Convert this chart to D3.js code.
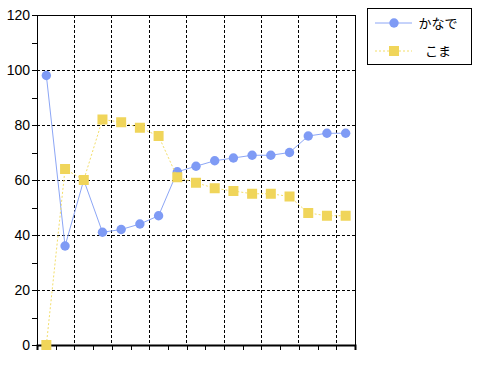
<!DOCTYPE html>
<html>
<head>
<meta charset="utf-8">
<script src="https://cdn.jsdelivr.net/npm/d3@7"></script>
<style>
  html, body { margin: 0; padding: 0; background: #fff; }
  svg { display: block; }
</style>
</head>
<body>
<div id="chart"></div>
<script>
const categories = d3.range(1, 18).map(String);
const seriesNames = ["かなで", "こま"];
const kanade = [98, 36, 60, 41, 42, 44, 47, 63, 65, 67, 68, 69, 69, 70, 76, 77, 77];
const koma = [0, 64, 60, 82, 81, 79, 76, 61, 59, 57, 56, 55, 55, 54, 48, 47, 47];
const yTicks = [0, 20, 40, 60, 80, 100, 120];
const yMinorTicks = d3.range(0, 121, 10);

(function () {
const W = 480, H = 374;
const pLeft = 37, pRight = 355, pTop = 15, pBottom = 345;
const blue = "#7f9bf5", blueLine = "#8ca6f6";
const yellow = "#f0d55a", yellowLine = "#f3de6a";

const svg = d3.select("#chart").append("svg")
  .attr("width", W).attr("height", H);

const x = d3.scaleBand().domain(categories).range([pLeft, pRight]).paddingInner(0).paddingOuter(0);
const xb = d3.scaleLinear().domain([0, categories.length]).range([pLeft, pRight]);
const y = d3.scaleLinear().domain([0, 120]).range([pBottom, pTop]);

const grid = svg.append("g").attr("stroke", "#000").attr("stroke-width", 1)
  .attr("stroke-dasharray", "3,2").attr("shape-rendering", "crispEdges");
yTicks.filter(v => v > 0 && v < 120).forEach(v => {
  grid.append("line").attr("x1", pLeft).attr("x2", pRight).attr("y1", y(v)).attr("y2", y(v));
});
d3.range(2, categories.length, 2).forEach(i => {
  grid.append("line").attr("x1", xb(i)).attr("x2", xb(i)).attr("y1", pTop).attr("y2", pBottom);
});

svg.append("line").attr("x1", pLeft).attr("x2", pRight).attr("y1", pTop).attr("y2", pTop)
  .attr("stroke", "#000").attr("shape-rendering", "crispEdges");
svg.append("line").attr("x1", pRight).attr("x2", pRight).attr("y1", pTop).attr("y2", pBottom)
  .attr("stroke", "#000").attr("shape-rendering", "crispEdges");

const yAxis = d3.axisLeft(y).tickValues(yMinorTicks).tickSize(5).tickPadding(2)
  .tickFormat(v => yTicks.includes(v) ? String(v) : "");
const ga = svg.append("g").attr("transform", `translate(${pLeft},0)`).call(yAxis);
ga.select(".domain").attr("stroke", "#000").attr("shape-rendering", "crispEdges");
ga.selectAll(".tick line").attr("stroke", "#000").attr("shape-rendering", "crispEdges");
ga.selectAll(".tick text").attr("font-family", "Liberation Sans, Arial, sans-serif")
  .attr("font-size", 14).attr("fill", "#000");

const xAxis = d3.axisBottom(xb).tickValues(d3.range(0, categories.length + 1)).tickSize(5).tickFormat("");
const gb = svg.append("g").attr("transform", `translate(0,${pBottom})`).call(xAxis);
gb.select(".domain").attr("stroke", "#000").attr("stroke-width", 2);
gb.selectAll(".tick line").attr("stroke", "#000").attr("shape-rendering", "crispEdges");

const cx = (d, i) => x(categories[i]) + x.bandwidth() / 2;

const lineK = d3.line().x((d, i) => cx(d, i)).y(d => y(d));
svg.append("path").datum(kanade).attr("d", lineK).attr("fill", "none")
  .attr("stroke", blueLine).attr("stroke-width", 1);
svg.append("g").selectAll("circle").data(kanade).join("circle")
  .attr("cx", cx).attr("cy", d => y(d)).attr("r", 4.7).attr("fill", blue);

svg.append("path").datum(koma).attr("d", lineK).attr("fill", "none")
  .attr("stroke", yellowLine).attr("stroke-width", 1).attr("stroke-dasharray", "2,2");
const s = 10;
svg.append("g").selectAll("rect").data(koma).join("rect")
  .attr("x", (d, i) => cx(d, i) - s / 2).attr("y", d => y(d) - s / 2)
  .attr("width", s).attr("height", s).attr("fill", yellow);

const lg = svg.append("g");
lg.append("rect").attr("x", 367.5).attr("y", 8.5).attr("width", 104).attr("height", 56)
  .attr("fill", "#fff").attr("stroke", "#000");
const rows = [
  { name: seriesNames[0], y: 23 },
  { name: seriesNames[1], y: 51 }
];
lg.append("line").attr("x1", 375).attr("x2", 412).attr("y1", rows[0].y).attr("y2", rows[0].y)
  .attr("stroke", blueLine);
lg.append("circle").attr("cx", 394).attr("cy", rows[0].y).attr("r", 4.7).attr("fill", blue);
lg.append("line").attr("x1", 375).attr("x2", 412).attr("y1", rows[1].y).attr("y2", rows[1].y)
  .attr("stroke", yellowLine).attr("stroke-dasharray", "2,2");
lg.append("rect").attr("x", 394 - s / 2).attr("y", rows[1].y - s / 2).attr("width", s).attr("height", s)
  .attr("fill", yellow);
rows.forEach(r => {
  lg.append("text").attr("x", 438).attr("y", r.y).attr("dy", "0.35em")
    .attr("text-anchor", "middle").attr("font-family", "Noto Sans CJK JP, sans-serif")
    .attr("font-size", 13).attr("fill", "#000").text(r.name);
});
})();
</script>
</body>
</html>
